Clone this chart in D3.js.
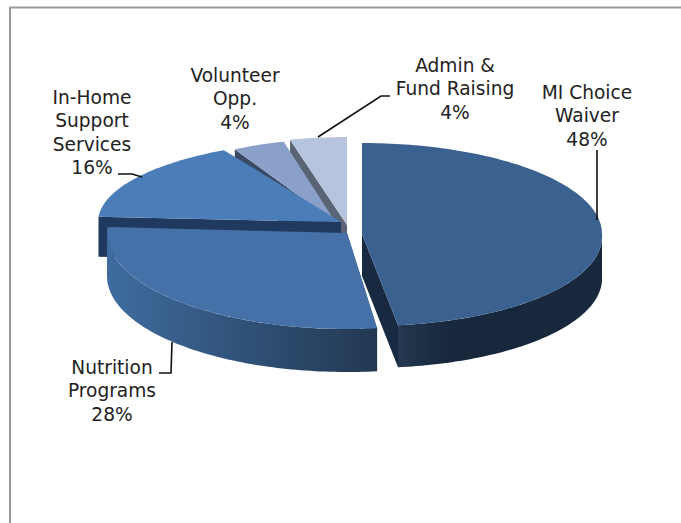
<!DOCTYPE html>
<html>
<head>
<meta charset="utf-8">
<script src="https://cdn.jsdelivr.net/npm/d3@7"></script>
<style>
  html, body { margin: 0; padding: 0; background: #fff; }
  text { font-family: "DejaVu Sans", sans-serif; font-size: 18.6px; fill: #222; text-anchor: middle; }
</style>
</head>
<body>
<div id="viz"></div>
<script>
// 3d looking pie, d3 has no 3d layout so the ellipse is projected by hand

const categories = ["MI Choice Waiver", "Nutrition Programs", "In-Home Support Services", "Volunteer Opp.", "Admin & Fund Raising"];
const shares = [48, 28, 16, 4, 4];

const topColors = ["#3a6190", "#4571a8", "#4b7eb9", "#8aa0c9", "#b7c4de"];
const edgeColors = ["#182a42", "#1f3a5e", "#1f3a5e", "#3a4a66", "#5a6474"];
// outer wall shading, [offset, colour]
const wallStops = [
    [[0, "#24384f"], [0.25, "#17273c"], [1, "#17273c"]],
    [[0, "#3f6c9f"], [1, "#223852"]]
];

// every slice is pulled away from the middle by a different amount
// lean pushes the front of the rim sideways, the original has some perspective
const sliceCenters = [
    {cx: 362, cy: 234, rx: 240, ryBack: 91, ryFront: 92, depth: 42, lean: 6},
    {cx: 347, cy: 233, rx: 240, ryBack: 96, ryFront: 96, depth: 43, lean: 0},
    {cx: 341, cy: 222, rx: 243, ryBack: 82, ryFront: 82, depth: 40, lean: 0},
    {cx: 336, cy: 223, rx: 210, ryBack: 84, ryFront: 84, depth: 40, lean: 0},
    {cx: 347, cy: 225, rx: 229, ryBack: 88, ryFront: 88, depth: 40, lean: 0}
];

const labels = [
    {lines: ["MI Choice", "Waiver", "48%"], x: 587, y: 99},
    {lines: ["Nutrition", "Programs", "28%"], x: 112, y: 374},
    {lines: ["In-Home", "Support", "Services", "16%"], x: 92, y: 104},
    {lines: ["Volunteer", "Opp.", "4%"], x: 235, y: 82},
    {lines: ["Admin &", "Fund Raising", "4%"], x: 455, y: 72}
];
const leaders = [
    [[597, 150], [597, 220]],
    [[172, 342], [171, 373], [159, 373]],
    [[118, 174], [132, 174], [142, 177]],
    [],
    [[318, 137], [381, 96], [390, 96]]
];

const width = 681, height = 523;

const viz = d3.select('#viz').append('svg')
    .attr('width', width)
    .attr('height', height);

const defs = viz.append('defs');

const pie = d3.pie().sort(null).value(d => d).startAngle(0).endAngle(2 * Math.PI);
const slices = pie(shares);

function project(c, angle) {
    const cos = Math.cos(angle);
    const front = cos < 0 ? -cos : 0;
    return [c.cx + c.rx * Math.sin(angle) + c.lean * front, c.cy - (cos > 0 ? c.ryBack : c.ryFront) * cos];
}

function arcPoints(c, a0, a1) {
    const n = Math.max(2, Math.ceil(Math.abs(a1 - a0) / 0.02));
    return d3.range(n + 1).map(i => project(c, a0 + (a1 - a0) * i / n));
}

const polygon = pts => 'M' + pts.map(p => p.join(',')).join('L') + 'Z';
const down = (pts, depth) => pts.map(p => [p[0], p[1] + depth]);

// frame around the chart
viz.append('path')
    .attr('d', `M10,${height}V7.5H${width}`)
    .attr('fill', 'none')
    .attr('stroke', '#9a9a9a')
    .attr('stroke-width', 2);

// paint back to front, so the last slices in the data go first
const order = slices.slice().reverse();

const groups = viz.selectAll('g.slice')
    .data(order)
    .enter()
    .append('g')
    .attr('class', 'slice');

groups.each(function(d) {
    const g = d3.select(this);
    const c = sliceCenters[d.index];

    // radial wall, MI Choice shows the one on its end side
    const wallAngle = d.index === 0 ? d.endAngle : d.startAngle;
    const rim = project(c, wallAngle);
    g.append('path')
        .attr('d', polygon([[c.cx, c.cy], rim, [rim[0], rim[1] + c.depth], [c.cx, c.cy + c.depth]]))
        .attr('fill', edgeColors[d.index]);

    // outer wall, only the part of the rim facing us
    const a0 = Math.max(d.startAngle, Math.PI / 2);
    const a1 = Math.min(d.endAngle, 3 * Math.PI / 2);
    if (a1 > a0 && d.index < 2) {
        const id = 'wall' + d.index;
        const grad = defs.append('linearGradient').attr('id', id);
        // MI Choice is drawn from its right end, flip so the light end is at the left
        wallStops[d.index].forEach(s => {
            grad.append('stop').attr('offset', s[0]).attr('stop-color', s[1]);
        });
        const edge = arcPoints(c, a0, a1);
        g.append('path')
            .attr('d', polygon(edge.concat(down(edge, c.depth).reverse())))
            .attr('fill', `url(#${id})`);
    }

    // top face
    g.append('path')
        .attr('d', polygon([[c.cx, c.cy]].concat(arcPoints(c, d.startAngle, d.endAngle))))
        .attr('fill', topColors[d.index]);
});

const line = d3.line();

viz.selectAll('path.leader')
    .data(leaders.filter(d => d.length))
    .enter()
    .append('path')
    .attr('class', 'leader')
    .attr('d', d => line(d))
    .attr('fill', 'none')
    .attr('stroke', '#111')
    .attr('stroke-width', 1.6);

const lineStep = 23.3;

viz.selectAll('text.label')
    .data(labels)
    .enter()
    .append('text')
    .attr('class', 'label')
    .attr('y', d => d.y)
    .selectAll('tspan')
    .data(d => d.lines.map((t, i) => ({t, i, x: d.x})))
    .enter()
    .append('tspan')
    .attr('x', d => d.x)
    .attr('dy', d => d.i ? lineStep : 0)
    .text(d => d.t);
</script>
</body>
</html>
